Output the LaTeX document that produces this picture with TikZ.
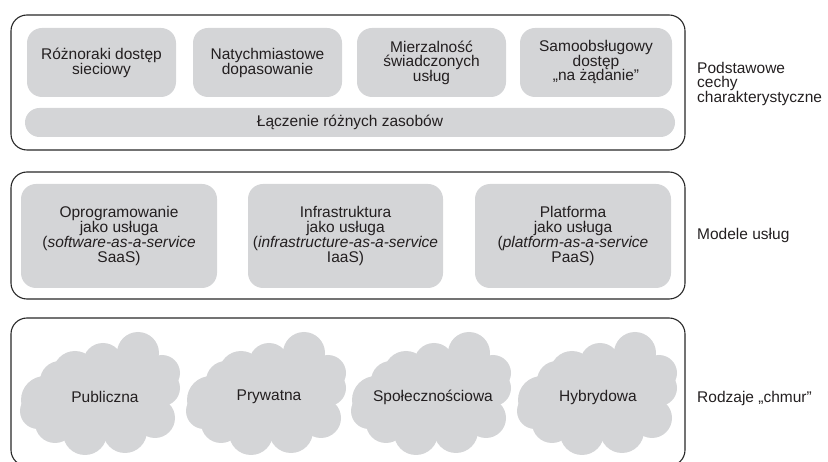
\documentclass[tikz,border=0pt]{standalone}
\usepackage{fontspec}
\setmainfont{Liberation Sans}
\begin{document}
\begin{tikzpicture}[x=1pt,y=-1pt,
  every node/.style={font=\fontsize{15.5}{15}\selectfont, text=txt, inner sep=0pt},
  frame/.style={draw=framec, line width=1.1pt, rounded corners=16pt, fill=none},
  tile/.style={fill=tileg, rounded corners=15pt, align=center},
  lbl/.style={anchor=west, align=left, font=\fontsize{15.5}{14}\selectfont},
  cloudpic/.pic={
    \fill[tileg] (0,2) ellipse[x radius=58pt, y radius=40pt];
    \foreach \cx/\cy/\r in {-55/7/24, -40/-12/20, -25/-20/22, 3/-30/20, 38/-40/21,
       62/-20/18, 62/-5/18, 55/25/20, 25/38/22, -15/40/22, -45/30/20, -62/18/18, 20/-22/22}
      {\fill[tileg] (\cx,\cy) circle[radius=\r pt];}
  }]
\definecolor{tileg}{RGB}{212,213,215}
\definecolor{framec}{RGB}{40,40,40}
\definecolor{txt}{RGB}{35,31,32}
\useasboundingbox (0,0) rectangle (828,462);

% frames
\node[frame, minimum width=674pt, minimum height=135pt] (f1) at (348,82.5) {};
\node[frame, minimum width=674pt, minimum height=127pt] (f2) at (348,235.5) {};
\node[frame, minimum width=674pt, minimum height=148pt] (f3) at (348,392) {};

% row 1
\node[tile, minimum width=149pt, minimum height=69pt] (a1) at (101.5,62.5) {Różnoraki dostęp\\sieciowy};
\node[tile, minimum width=149pt, minimum height=69pt] (a2) at (267.5,62.5) {Natychmiastowe\\dopasowanie};
\node[tile, minimum width=149pt, minimum height=69pt, font=\fontsize{15.5}{14.5}\selectfont] (a3) at (431.5,62.5) {Mierzalność\\świadczonych\\usług};
\node[tile, minimum width=152pt, minimum height=69pt, font=\fontsize{15.5}{14.5}\selectfont] (a4) at (596,62.5) {Samoobsługowy\\dostęp\\„na żądanie”};
\node[tile, rounded corners=14.5pt, minimum width=650pt, minimum height=29pt] (bar) at (350,122.5) {Łączenie różnych zasobów};

% row 2
\node[tile, minimum width=196pt, minimum height=104pt, font=\fontsize{15.5}{14.8}\selectfont] (b1) at (119,236) {Oprogramowanie\\jako usługa\\(\textit{software-as-a-service}\\SaaS)};
\node[tile, minimum width=195pt, minimum height=104pt, font=\fontsize{15.5}{14.8}\selectfont] (b2) at (345.5,236) {Infrastruktura\\jako usługa\\(\textit{infrastructure-as-a-service}\\IaaS)};
\node[tile, minimum width=196pt, minimum height=104pt, font=\fontsize{15.5}{14.8}\selectfont] (b3) at (573,236) {Platforma\\jako usługa\\(\textit{platform-as-a-service}\\PaaS)};

% row 3 clouds
\pic at (100,393) {cloudpic};
\pic at (266,393) {cloudpic};
\pic at (431,393) {cloudpic};
\pic at (597,393) {cloudpic};
\node (c1) at (105,397) {Publiczna};
\node (c2) at (269,397) {Prywatna};
\node (c3) at (433,397) {Społecznościowa};
\node (c4) at (598,397) {Hybrydowa};

% labels
\node[lbl] (l1) at (697,84) {Podstawowe\\cechy\\charakterystyczne};
\node[lbl] (l2) at (697,235) {Modele usług};
\node[lbl] (l3) at (697,398) {Rodzaje „chmur”};
\end{tikzpicture}
\end{document}
